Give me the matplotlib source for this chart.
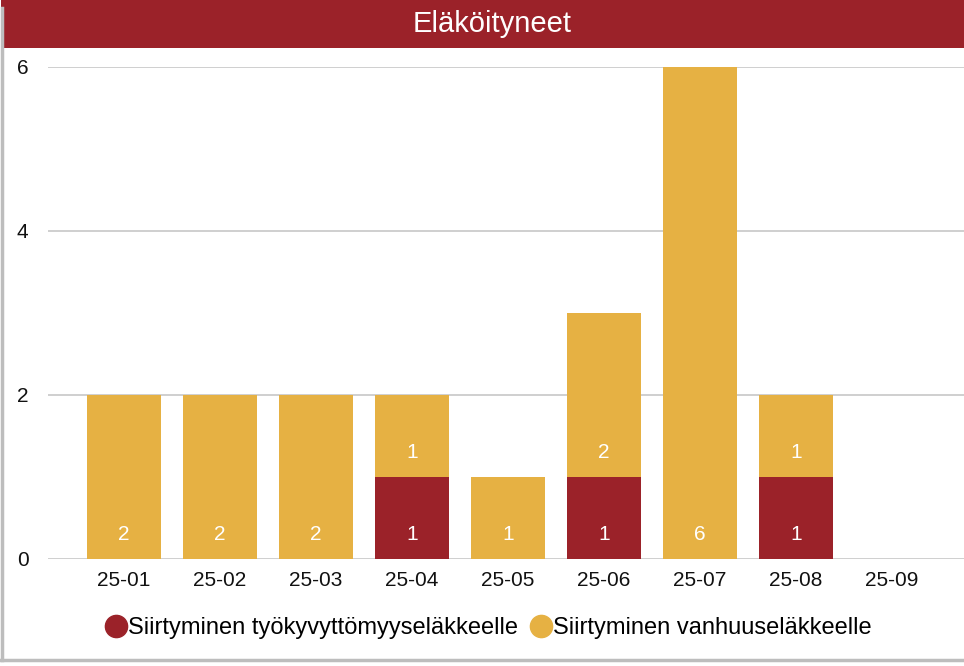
import matplotlib.pyplot as plt
from matplotlib.patches import Rectangle
from matplotlib.lines import Line2D
import numpy as np

plt.rcParams['font.family'] = ['Liberation Sans', 'DejaVu Sans']

# datos
kuukaudet = ['25-01', '25-02', '25-03', '25-04', '25-05', '25-06', '25-07', '25-08', '25-09']
tyokyvyttomyys = [0, 0, 0, 1, 0, 1, 0, 1, 0]
vanhuus = [2, 2, 2, 1, 1, 2, 6, 1, 0]
sarjat = ['Siirtyminen työkyvyttömyyseläkkeelle', 'Siirtyminen vanhuuseläkkeelle']
otsikko = 'Eläköityneet'

punainen = '#9B2229'
keltainen = '#E6B143'

W, H = 964, 666
fig = plt.figure(figsize=(W / 100, H / 100), dpi=100, facecolor='white')

# kortin reunat ja otsikkopalkki
fig.patches.append(Rectangle((1 / W, 1 - 48 / H), 1, 48 / H, transform=fig.transFigure,
                             facecolor=punainen, edgecolor='none', zorder=1))
fig.lines.append(Line2D([1.5 / W, 1.5 / W], [6 / H, 1 - 8 / H], transform=fig.transFigure,
                        color='#bdbdbd', lw=2.5))
fig.lines.append(Line2D([0, 1], [6 / H, 6 / H], transform=fig.transFigure,
                        color='#bdbdbd', lw=2.5))
fig.text(492 / W, 1 - 24 / H, otsikko, color='white', fontsize=21,
         ha='center', va='center')

ax = fig.add_axes([48 / W, (H - 559) / H, (W - 48) / W, (559 - 67) / H])
ax.patch.set_alpha(0)
x = np.arange(len(kuukaudet))
leveys = 74 / 96

ax.bar(x, tyokyvyttomyys, leveys, color=punainen, zorder=3)
ax.bar(x, vanhuus, leveys, bottom=tyokyvyttomyys, color=keltainen, zorder=3)

# arvot palkkien alaosaan
for i in range(len(x)):
    if tyokyvyttomyys[i] > 0:
        ax.annotate(str(tyokyvyttomyys[i]), (x[i], 0), xytext=(0, 18),
                    textcoords='offset points', ha='center', va='center',
                    color='white', fontsize=15, zorder=4)
    if vanhuus[i] > 0:
        ax.annotate(str(vanhuus[i]), (x[i], tyokyvyttomyys[i]), xytext=(0, 18),
                    textcoords='offset points', ha='center', va='center',
                    color='white', fontsize=15, zorder=4)

ax.set_xlim((48 - 124) / 96, (W - 124) / 96)
ax.set_ylim(0, 6)
ax.set_yticks([0, 2, 4, 6])
ax.set_xticks(x)
ax.set_xticklabels(kuukaudet)
ax.grid(axis='y', color='#cccccc', lw=1.3, zorder=0)
for s in ax.spines.values():
    s.set_visible(False)
ax.tick_params(axis='both', length=0, labelsize=15, colors='#111111')
ax.tick_params(axis='y', pad=14)
ax.tick_params(axis='x', pad=9)

kahvat = [Line2D([], [], marker='o', ls='', color=punainen, markersize=16),
          Line2D([], [], marker='o', ls='', color=keltainen, markersize=16)]
fig.legend(kahvat, sarjat, loc='center', bbox_to_anchor=(488 / W, 1 - 628 / H),
           ncol=2, frameon=False, fontsize=17, handletextpad=0.0,
           columnspacing=0.5, handlelength=1.0)

fig.savefig('out.png', dpi=100)
